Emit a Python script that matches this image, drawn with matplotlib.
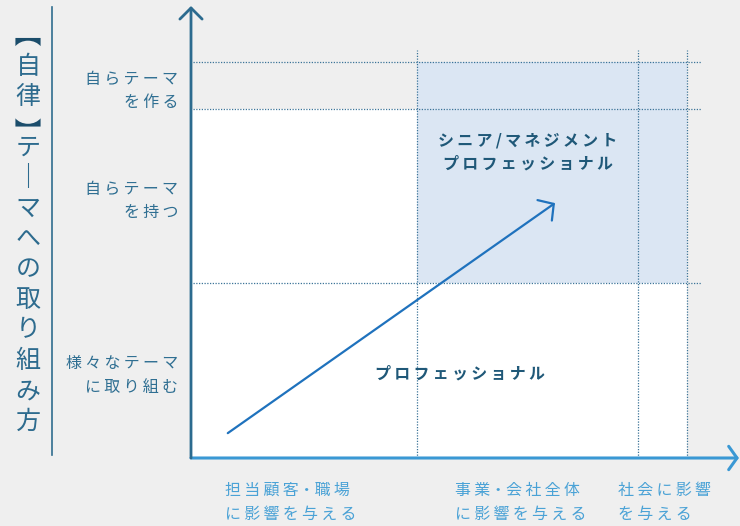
import matplotlib
matplotlib.use('Agg')
import matplotlib.pyplot as plt
from matplotlib.textpath import TextPath
from matplotlib.font_manager import FontProperties
from matplotlib.patches import PathPatch
from matplotlib.transforms import Affine2D, IdentityTransform

plt.rcParams['font.family'] = ['Noto Sans CJK JP', 'DejaVu Sans']

# 横軸: 影響範囲の区切り / 縦軸: テーマへの取り組み方の区切り
x_bounds = [4.12, 8.14, 9.03]
y_bounds = [3.87, 7.72, 8.76]

y_ticks = [1.94, 5.80, 8.24]
y_labels = ['様々なテーマ\nに取り組む', '自らテーマ\nを持つ', '自らテーマ\nを作る']

x_ticks = [0.62, 4.81, 7.78]
x_labels = ['担当顧客・職場\nに影響を与える', '事業・会社全体\nに影響を与える', '社会に影響\nを与える']

zone_labels = ['シニア/マネジメント\nプロフェッショナル', 'プロフェッショナル']
zone_pos = [(6.14, 6.77), (4.90, 1.86)]

growth_start = (0.67, 0.55)
growth_end = (6.63, 5.64)

title_chars = ['【', '自', '律', '】', 'テ', '｜', 'マ', 'へ', 'の', '取', 'り', '組', 'み', '方']

BG = '#efefef'
W, H = 740, 526


def spaced(s):
    # 字間を少し空ける (中黒の前後は詰める)
    out = []
    for line in s.split('\n'):
        t = '\u2009'.join(line)
        out.append(t.replace('\u2009・\u2009', '・'))
    return '\n'.join(out)


fig = plt.figure(figsize=(7.4, 5.26), dpi=100, facecolor=BG)
ax = fig.add_axes([191 / W, 68 / H, 549 / W, 452 / H])
ax.set_facecolor(BG)
ax.set_xlim(0, 10)
ax.set_ylim(0, 10)
for s in ax.spines.values():
    s.set_visible(False)

# 領域
ax.fill_between([0, x_bounds[2]], 0, y_bounds[1], color='white', lw=0, zorder=0)
ax.fill_between([x_bounds[0], x_bounds[2]], y_bounds[0], y_bounds[2], color='#dbe6f3', lw=0, zorder=1)

dot = dict(colors='#3c7498', linewidth=0.9, linestyles=(0, (1, 1.2)), zorder=2)
ax.hlines(y_bounds, 0.04, 9.29, **dot)
ax.vlines(x_bounds, 0, 9.03, **dot)

# 軸の矢印
ax.annotate('', xy=(0, 10), xytext=(0, 0),
            arrowprops=dict(arrowstyle='->,head_length=0.4,head_width=0.4', color='#2c6b8f',
                            lw=2, shrinkA=0, shrinkB=0, mutation_scale=20), annotation_clip=False, zorder=5)
ax.annotate('', xy=(9.98, 0), xytext=(0, 0),
            arrowprops=dict(arrowstyle='->,head_length=0.3,head_width=0.42', color='#3a98d4',
                            lw=2.2, shrinkA=0, shrinkB=0, mutation_scale=20), annotation_clip=False, zorder=4)

# 成長の矢印
ax.annotate('', xy=growth_end, xytext=growth_start,
            arrowprops=dict(arrowstyle='->,head_length=0.4,head_width=0.45', color='#1f72bd',
                            lw=1.6, shrinkA=0, shrinkB=0, mutation_scale=20), zorder=6)

for lbl, (x, y) in zip(zone_labels, zone_pos):
    ax.text(x, y, spaced(lbl), ha='center', va='center', fontsize=11.5, fontweight='bold',
            color='#1f5878', linespacing=1.5, zorder=7)

ax.set_yticks(y_ticks)
ax.set_yticklabels([spaced(l) for l in y_labels], fontsize=11.5, color='#2f6f92', linespacing=1.5)
ax.tick_params(axis='y', length=0, pad=9)

ax.set_xticks(x_ticks)
ax.set_xticklabels([spaced(l) for l in x_labels], fontsize=11.5, color='#4aa2d6',
                   linespacing=1.6, ha='left')
ax.tick_params(axis='x', length=0, pad=17)

# 左側の縦書きタイトル (括弧は字形を90度回して縦書き用の形にする)
fp = FontProperties(family='Noto Sans CJK JP')
ypix = 42
for i, ch in enumerate(title_chars):
    bracket = ch in '【】'
    if i > 0:
        near_bracket = bracket or title_chars[i - 1] in '【】'
        ypix += 25 if near_bracket else 30.5
    if bracket:
        tp = TextPath((0, 0), ch, size=27, prop=fp)
        ext = tp.get_extents()
        cx, cy = (ext.x0 + ext.x1) / 2, (ext.y0 + ext.y1) / 2
        tr = Affine2D().translate(-cx, -cy).rotate_deg(-90).translate(28, H - ypix)
        fig.add_artist(PathPatch(tp, transform=tr + IdentityTransform(), color='#1b4d6b', lw=0))
    else:
        fig.text(28 / W, 1 - ypix / H, ch, ha='center', va='center', fontsize=18, color='#2d6b8e')

fig.add_artist(plt.Line2D([52 / W, 52 / W], [1 - 7 / H, 1 - 455 / H],
                          color='#2f6d8e', lw=1.2, transform=fig.transFigure))

fig.savefig('out.png', dpi=100, facecolor=BG)
